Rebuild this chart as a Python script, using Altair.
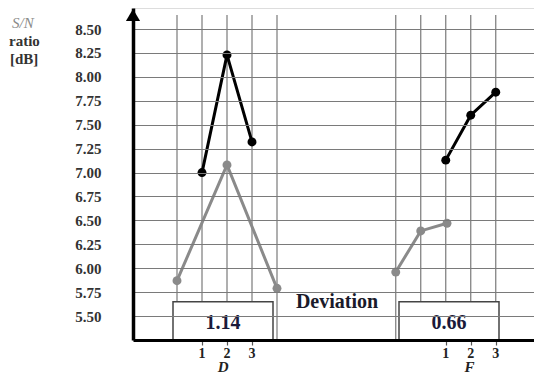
import altair as alt
import pandas as pd

# ---- data ----
y_ticks = [5.50, 5.75, 6.00, 6.25, 6.50, 6.75, 7.00, 7.25, 7.50, 7.75, 8.00, 8.25, 8.50]
grid_x = [0, 1, 2, 3, 4, 8.75, 9.75, 10.75, 11.75, 12.75]

level_x = [1, 2, 3, 10.75, 11.75, 12.75]
level_labels = ["1", "2", "3", "1", "2", "3"]
factor_names = ["D", "F"]
factor_x = [1.85, 11.7]

black_D_x = [1, 2, 3]
black_D_y = [7.00, 8.23, 7.32]
gray_D_x = [0, 2, 4]
gray_D_y = [5.87, 7.08, 5.79]
black_F_x = [10.75, 11.75, 12.75]
black_F_y = [7.13, 7.60, 7.84]
gray_F_x = [8.75, 9.75, 10.8]
gray_F_y = [5.96, 6.39, 6.47]

deviation_values = ["1.14", "0.66"]
box_x1 = [-0.16, 8.88]
box_x2 = [3.84, 12.88]
box_top = 5.65
box_text_y = 5.43
deviation_label = "Deviation"
deviation_label_x = 6.4
deviation_label_y = 5.645

title_lines = ["S/N", "ratio", "[dB]"]

FONT = "Liberation Serif"

# ---- tables ----
rows = []
for xs, ys, series, grp in [
    (black_D_x, black_D_y, "black", "D"),
    (gray_D_x, gray_D_y, "gray", "D"),
    (black_F_x, black_F_y, "black", "F"),
    (gray_F_x, gray_F_y, "gray", "F"),
]:
    for i, (xv, yv) in enumerate(zip(xs, ys)):
        rows.append({"x": xv, "y": yv, "series": series, "grp": series + grp, "order": i})
df = pd.DataFrame(rows)

grid_df = pd.DataFrame({"x": grid_x})
levels_df = pd.DataFrame({"x": level_x, "label": level_labels})
factors_df = pd.DataFrame({"x": factor_x, "label": factor_names})
boxes_df = pd.DataFrame({
    "x1": box_x1, "x2": box_x2,
    "xc": [(a + b) / 2 for a, b in zip(box_x1, box_x2)],
    "label": deviation_values,
    "ybot": [5.25, 5.25], "ytop": [box_top, box_top], "ytext": [box_text_y, box_text_y],
})
dev_df = pd.DataFrame({"x": [deviation_label_x], "y": [deviation_label_y], "label": [deviation_label]})
one = pd.DataFrame({"k": [0]})

xscale = alt.Scale(domain=[-1.76, 14.28], nice=False, zero=False)
yscale = alt.Scale(domain=[5.25, 8.72], nice=False, zero=False)

x_axis = alt.Axis(values=level_x, labels=False, title=None, grid=False,
                  domainColor="black", domainWidth=3, ticks=True, tickSize=5,
                  tickColor="#555", tickWidth=1.2, zindex=1)
y_axis = alt.Axis(values=y_ticks, format=".2f", title=None, grid=True,
                  gridColor="#7a7a7a", gridWidth=1.2, ticks=False,
                  domainColor="black", domainWidth=3.5, labelPadding=32,
                  labelOverlap=False, labelBound=False,
                  labelFont=FONT, labelFontWeight="bold", labelFontSize=15,
                  labelColor="#333", zindex=1)


def X(field):
    return alt.X(field, scale=xscale, axis=x_axis)


def Y(field):
    return alt.Y(field, scale=yscale, axis=y_axis)


vgrid = alt.Chart(grid_df).mark_rule(color="#7a7a7a", strokeWidth=1.2).encode(
    x=X("x:Q"), y=alt.value(7), y2=alt.value(332),
)

boxes = alt.Chart(boxes_df).mark_rect(fill="white", stroke="#444", strokeWidth=1.5).encode(
    x=X("x1:Q"), x2="x2:Q", y=Y("ybot:Q"), y2="ytop:Q",
)
box_text = alt.Chart(boxes_df).mark_text(font=FONT, fontWeight="bold", fontSize=20,
                                          color="#1a1a3a").encode(
    x=X("xc:Q"), y=Y("ytext:Q"), text="label:N",
)
dev_text = alt.Chart(dev_df).mark_text(font=FONT, fontWeight="bold", fontSize=20,
                                        color="#1a1a2a").encode(
    x=X("x:Q"), y=Y("y:Q"), text="label:N",
)

color_scale = alt.Scale(domain=["black", "gray"], range=["#000000", "#8a8a8a"])

lines = alt.Chart(df).mark_line(strokeWidth=3).encode(
    x=X("x:Q"), y=Y("y:Q"),
    color=alt.Color("series:N", scale=color_scale, legend=None),
    detail="grp:N", order="order:Q",
)
points = alt.Chart(df).mark_circle(size=80, opacity=1).encode(
    x=X("x:Q"), y=Y("y:Q"),
    color=alt.Color("series:N", scale=color_scale, legend=None),
)

level_text = alt.Chart(levels_df).mark_text(font=FONT, fontWeight="bold", fontSize=14,
                                             color="#222").encode(
    x=X("x:Q"), y=alt.value(346), text="label:N",
)
factor_text = alt.Chart(factors_df).mark_text(font=FONT, fontWeight="bold", fontStyle="italic",
                                               fontSize=15, color="#222").encode(
    x=X("x:Q"), y=alt.value(359), text="label:N",
)

arrow = alt.Chart(one).mark_point(shape="triangle-up", filled=True, size=200,
                                  color="black", opacity=1).encode(
    x=alt.value(0), y=alt.value(7),
)

t1 = alt.Chart(one).mark_text(text=title_lines[0], font=FONT, fontStyle="italic",
                              fontSize=15, color="#8a8a8a", align="left").encode(
    x=alt.value(-121), y=alt.value(15))
t2 = alt.Chart(one).mark_text(text=title_lines[1], font=FONT, fontWeight="bold",
                              fontSize=15, color="#333", align="left").encode(
    x=alt.value(-124), y=alt.value(33))
t3 = alt.Chart(one).mark_text(text=title_lines[2], font=FONT, fontWeight="bold",
                              fontSize=15, color="#333", align="left").encode(
    x=alt.value(-123), y=alt.value(51))

chart = alt.layer(
    vgrid, boxes, box_text, dev_text, lines, points, level_text, factor_text, arrow, t1, t2, t3
).properties(
    width=401, height=332,
    autosize=alt.AutoSizeParams(type="none"),
    padding={"left": 125, "top": 0, "right": 0, "bottom": 36},
).configure_view(stroke=None).configure_axisY(
    labelOverlap=False, labelFont=FONT, labelFontWeight="bold", labelFontSize=15, labelColor="#333"
).configure(background="white")

chart.save("out.html", embed_options={"renderer": "svg", "actions": False})
